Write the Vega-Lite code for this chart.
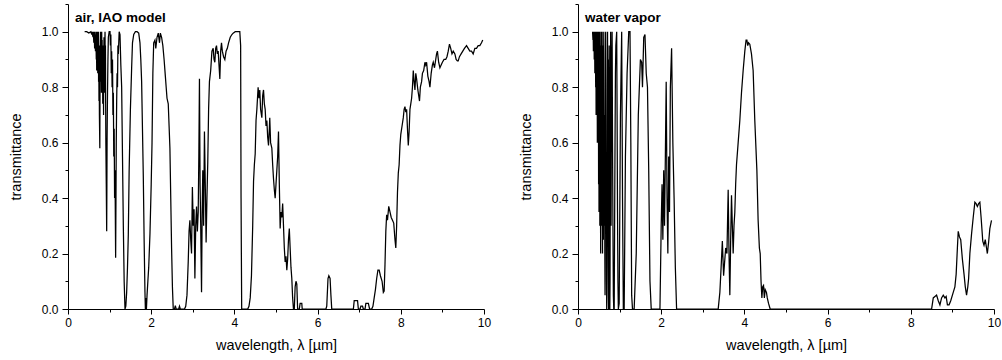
{
  "$schema": "https://vega.github.io/schema/vega-lite/v6.json",
  "padding": {"left": 8, "top": 3, "right": 0, "bottom": 8},
  "autosize": {"type": "pad"},
  "background": "white",
  "bounds": "flush",
  "spacing": 94,
  "config": {
    "view": {"stroke": null},
    "font": "Liberation Sans",
    "axis": {"domainColor": "black", "tickColor": "black", "labelColor": "black", "titleColor": "black", "grid": false, "labelFont": "Liberation Sans", "titleFont": "Liberation Sans", "labelFontSize": 12, "titleFontSize": 14.5, "titleFontWeight": "normal"}
  },
  "datasets": {
    "air": [
      {"x":0.40,"y":1.0},{"x":0.45,"y":1.0},{"x":0.50,"y":0.995},{"x":0.55,"y":1.0},{"x":0.57,"y":0.99},{"x":0.58,"y":1.0},{"x":0.60,"y":0.98},{"x":0.61,"y":1.0},{"x":0.62,"y":0.96},{"x":0.63,"y":1.0},{"x":0.64,"y":0.94},{"x":0.65,"y":1.0},{"x":0.66,"y":0.93},{"x":0.67,"y":0.99},{"x":0.68,"y":0.90},{"x":0.685,"y":1.0},{"x":0.69,"y":0.86},{"x":0.70,"y":0.97},{"x":0.705,"y":0.90},{"x":0.71,"y":1.0},{"x":0.715,"y":0.85},{"x":0.72,"y":0.95},{"x":0.725,"y":0.88},{"x":0.73,"y":1.0},{"x":0.735,"y":0.82},{"x":0.74,"y":0.92},{"x":0.745,"y":0.75},{"x":0.75,"y":0.95},{"x":0.755,"y":0.70},{"x":0.765,"y":0.58},{"x":0.77,"y":0.80},{"x":0.775,"y":0.95},{"x":0.78,"y":1.0},{"x":0.785,"y":0.88},{"x":0.79,"y":0.97},{"x":0.795,"y":0.82},{"x":0.80,"y":0.92},{"x":0.805,"y":0.78},{"x":0.81,"y":1.0},{"x":0.815,"y":0.90},{"x":0.82,"y":0.97},{"x":0.825,"y":0.80},{"x":0.83,"y":0.93},{"x":0.835,"y":0.74},{"x":0.84,"y":0.88},{"x":0.845,"y":0.95},{"x":0.85,"y":0.80},{"x":0.855,"y":0.70},{"x":0.86,"y":0.90},{"x":0.865,"y":0.98},{"x":0.87,"y":0.85},{"x":0.875,"y":0.92},{"x":0.88,"y":0.78},{"x":0.885,"y":0.95},{"x":0.89,"y":1.0},{"x":0.895,"y":0.88},{"x":0.90,"y":0.95},{"x":0.905,"y":0.75},{"x":0.91,"y":0.60},{"x":0.92,"y":0.45},{"x":0.93,"y":0.28},{"x":0.935,"y":0.45},{"x":0.94,"y":0.62},{"x":0.95,"y":0.78},{"x":0.96,"y":0.90},{"x":0.97,"y":0.98},{"x":0.99,"y":1.0},{"x":1.01,"y":1.0},{"x":1.02,"y":0.95},{"x":1.03,"y":0.99},{"x":1.04,"y":0.85},{"x":1.05,"y":0.93},{"x":1.06,"y":0.80},{"x":1.07,"y":0.90},{"x":1.08,"y":0.70},{"x":1.09,"y":0.78},{"x":1.10,"y":0.55},{"x":1.11,"y":0.65},{"x":1.12,"y":0.40},{"x":1.13,"y":0.50},{"x":1.145,"y":0.185},{"x":1.155,"y":0.45},{"x":1.16,"y":0.60},{"x":1.17,"y":0.75},{"x":1.18,"y":0.85},{"x":1.19,"y":0.80},{"x":1.20,"y":0.95},{"x":1.21,"y":0.92},{"x":1.23,"y":1.0},{"x":1.25,"y":0.99},{"x":1.27,"y":0.88},{"x":1.29,"y":0.80},{"x":1.31,"y":0.55},{"x":1.33,"y":0.30},{"x":1.35,"y":0.10},{"x":1.37,"y":0.0},{"x":1.39,"y":0.01},{"x":1.41,"y":0.06},{"x":1.43,"y":0.15},{"x":1.45,"y":0.27},{"x":1.47,"y":0.50},{"x":1.50,"y":0.72},{"x":1.53,"y":0.87},{"x":1.55,"y":0.96},{"x":1.58,"y":0.99},{"x":1.62,"y":1.0},{"x":1.66,"y":1.0},{"x":1.70,"y":0.995},{"x":1.73,"y":0.96},{"x":1.75,"y":0.90},{"x":1.77,"y":0.82},{"x":1.79,"y":0.65},{"x":1.81,"y":0.48},{"x":1.83,"y":0.25},{"x":1.85,"y":0.06},{"x":1.86,"y":0.0},{"x":1.875,"y":0.04},{"x":1.885,"y":0.0},{"x":1.90,"y":0.05},{"x":1.92,"y":0.10},{"x":1.94,"y":0.15},{"x":1.97,"y":0.27},{"x":2.00,"y":0.45},{"x":2.02,"y":0.60},{"x":2.04,"y":0.85},{"x":2.06,"y":0.96},{"x":2.09,"y":0.97},{"x":2.11,"y":0.94},{"x":2.14,"y":0.98},{"x":2.17,"y":0.995},{"x":2.20,"y":0.96},{"x":2.22,"y":0.995},{"x":2.25,"y":0.98},{"x":2.28,"y":0.95},{"x":2.31,"y":0.90},{"x":2.34,"y":0.84},{"x":2.36,"y":0.80},{"x":2.38,"y":0.76},{"x":2.41,"y":0.74},{"x":2.43,"y":0.66},{"x":2.45,"y":0.58},{"x":2.47,"y":0.40},{"x":2.49,"y":0.22},{"x":2.51,"y":0.08},{"x":2.53,"y":0.0},{"x":2.56,"y":0.0},{"x":2.58,"y":0.012},{"x":2.60,"y":0.0},{"x":2.66,"y":0.0},{"x":2.68,"y":0.01},{"x":2.70,"y":0.0},{"x":2.80,"y":0.0},{"x":2.83,"y":0.01},{"x":2.86,"y":0.05},{"x":2.89,"y":0.17},{"x":2.91,"y":0.28},{"x":2.93,"y":0.32},{"x":2.95,"y":0.25},{"x":2.97,"y":0.20},{"x":2.99,"y":0.44},{"x":3.01,"y":0.30},{"x":3.03,"y":0.36},{"x":3.05,"y":0.11},{"x":3.07,"y":0.30},{"x":3.09,"y":0.37},{"x":3.11,"y":0.28},{"x":3.13,"y":0.35},{"x":3.145,"y":0.55},{"x":3.16,"y":0.83},{"x":3.175,"y":0.45},{"x":3.19,"y":0.30},{"x":3.21,"y":0.06},{"x":3.225,"y":0.35},{"x":3.24,"y":0.50},{"x":3.26,"y":0.30},{"x":3.28,"y":0.64},{"x":3.30,"y":0.45},{"x":3.32,"y":0.24},{"x":3.34,"y":0.40},{"x":3.36,"y":0.53},{"x":3.38,"y":0.72},{"x":3.40,"y":0.82},{"x":3.43,"y":0.86},{"x":3.46,"y":0.93},{"x":3.49,"y":0.94},{"x":3.51,"y":0.90},{"x":3.53,"y":0.89},{"x":3.55,"y":0.94},{"x":3.57,"y":0.95},{"x":3.59,"y":0.92},{"x":3.61,"y":0.93},{"x":3.63,"y":0.88},{"x":3.65,"y":0.83},{"x":3.67,"y":0.93},{"x":3.69,"y":0.96},{"x":3.71,"y":0.93},{"x":3.74,"y":0.91},{"x":3.77,"y":0.90},{"x":3.80,"y":0.93},{"x":3.83,"y":0.94},{"x":3.86,"y":0.96},{"x":3.90,"y":0.98},{"x":3.94,"y":0.99},{"x":3.97,"y":0.995},{"x":4.02,"y":1.0},{"x":4.08,"y":1.0},{"x":4.13,"y":1.0},{"x":4.15,"y":0.95},{"x":4.16,"y":0.40},{"x":4.175,"y":0.0},{"x":4.25,"y":0.0},{"x":4.32,"y":0.0},{"x":4.35,"y":0.01},{"x":4.38,"y":0.04},{"x":4.41,"y":0.12},{"x":4.44,"y":0.30},{"x":4.46,"y":0.46},{"x":4.48,"y":0.52},{"x":4.50,"y":0.56},{"x":4.52,"y":0.68},{"x":4.54,"y":0.72},{"x":4.57,"y":0.80},{"x":4.59,"y":0.76},{"x":4.61,"y":0.79},{"x":4.63,"y":0.72},{"x":4.66,"y":0.69},{"x":4.68,"y":0.77},{"x":4.70,"y":0.79},{"x":4.72,"y":0.74},{"x":4.74,"y":0.72},{"x":4.76,"y":0.66},{"x":4.78,"y":0.68},{"x":4.80,"y":0.62},{"x":4.82,"y":0.59},{"x":4.84,"y":0.65},{"x":4.85,"y":0.69},{"x":4.87,"y":0.60},{"x":4.90,"y":0.58},{"x":4.92,"y":0.52},{"x":4.94,"y":0.47},{"x":4.96,"y":0.43},{"x":4.98,"y":0.40},{"x":5.00,"y":0.45},{"x":5.02,"y":0.50},{"x":5.04,"y":0.55},{"x":5.06,"y":0.64},{"x":5.08,"y":0.45},{"x":5.10,"y":0.29},{"x":5.12,"y":0.35},{"x":5.14,"y":0.33},{"x":5.16,"y":0.38},{"x":5.18,"y":0.30},{"x":5.20,"y":0.22},{"x":5.22,"y":0.17},{"x":5.24,"y":0.19},{"x":5.26,"y":0.14},{"x":5.28,"y":0.18},{"x":5.30,"y":0.25},{"x":5.32,"y":0.29},{"x":5.34,"y":0.22},{"x":5.36,"y":0.15},{"x":5.38,"y":0.11},{"x":5.40,"y":0.04},{"x":5.42,"y":0.0},{"x":5.44,"y":0.0},{"x":5.46,"y":0.08},{"x":5.48,"y":0.10},{"x":5.50,"y":0.09},{"x":5.52,"y":0.0},{"x":5.56,"y":0.0},{"x":5.58,"y":0.02},{"x":5.62,"y":0.02},{"x":5.63,"y":0.0},{"x":6.20,"y":0.0},{"x":6.22,"y":0.01},{"x":6.25,"y":0.11},{"x":6.27,"y":0.12},{"x":6.30,"y":0.11},{"x":6.32,"y":0.05},{"x":6.34,"y":0.0},{"x":6.86,"y":0.0},{"x":6.88,"y":0.03},{"x":6.96,"y":0.03},{"x":6.98,"y":0.0},{"x":7.02,"y":0.0},{"x":7.04,"y":0.01},{"x":7.08,"y":0.01},{"x":7.10,"y":0.0},{"x":7.14,"y":0.0},{"x":7.16,"y":0.02},{"x":7.22,"y":0.02},{"x":7.25,"y":0.0},{"x":7.30,"y":0.0},{"x":7.33,"y":0.01},{"x":7.36,"y":0.04},{"x":7.39,"y":0.07},{"x":7.42,"y":0.11},{"x":7.45,"y":0.14},{"x":7.48,"y":0.14},{"x":7.51,"y":0.12},{"x":7.55,"y":0.10},{"x":7.58,"y":0.06},{"x":7.60,"y":0.065},{"x":7.62,"y":0.16},{"x":7.64,"y":0.28},{"x":7.66,"y":0.34},{"x":7.68,"y":0.32},{"x":7.71,"y":0.37},{"x":7.74,"y":0.35},{"x":7.77,"y":0.33},{"x":7.80,"y":0.32},{"x":7.83,"y":0.31},{"x":7.86,"y":0.25},{"x":7.88,"y":0.22},{"x":7.90,"y":0.30},{"x":7.92,"y":0.42},{"x":7.94,"y":0.49},{"x":7.96,"y":0.52},{"x":7.98,"y":0.59},{"x":8.00,"y":0.63},{"x":8.03,"y":0.66},{"x":8.06,"y":0.69},{"x":8.08,"y":0.72},{"x":8.10,"y":0.73},{"x":8.12,"y":0.71},{"x":8.14,"y":0.72},{"x":8.16,"y":0.65},{"x":8.18,"y":0.59},{"x":8.20,"y":0.64},{"x":8.22,"y":0.72},{"x":8.24,"y":0.74},{"x":8.26,"y":0.76},{"x":8.28,"y":0.80},{"x":8.30,"y":0.86},{"x":8.32,"y":0.82},{"x":8.34,"y":0.79},{"x":8.36,"y":0.85},{"x":8.38,"y":0.83},{"x":8.41,"y":0.79},{"x":8.43,"y":0.77},{"x":8.45,"y":0.75},{"x":8.47,"y":0.80},{"x":8.50,"y":0.82},{"x":8.52,"y":0.85},{"x":8.55,"y":0.86},{"x":8.58,"y":0.89},{"x":8.60,"y":0.88},{"x":8.62,"y":0.89},{"x":8.65,"y":0.84},{"x":8.68,"y":0.82},{"x":8.70,"y":0.80},{"x":8.73,"y":0.85},{"x":8.76,"y":0.88},{"x":8.78,"y":0.89},{"x":8.81,"y":0.87},{"x":8.84,"y":0.90},{"x":8.86,"y":0.92},{"x":8.88,"y":0.93},{"x":8.91,"y":0.89},{"x":8.94,"y":0.87},{"x":8.97,"y":0.88},{"x":9.00,"y":0.89},{"x":9.04,"y":0.90},{"x":9.08,"y":0.90},{"x":9.11,"y":0.91},{"x":9.14,"y":0.93},{"x":9.17,"y":0.955},{"x":9.20,"y":0.94},{"x":9.23,"y":0.92},{"x":9.26,"y":0.93},{"x":9.30,"y":0.92},{"x":9.33,"y":0.90},{"x":9.36,"y":0.895},{"x":9.38,"y":0.895},{"x":9.41,"y":0.91},{"x":9.45,"y":0.92},{"x":9.49,"y":0.93},{"x":9.53,"y":0.94},{"x":9.58,"y":0.95},{"x":9.62,"y":0.94},{"x":9.66,"y":0.93},{"x":9.70,"y":0.93},{"x":9.74,"y":0.92},{"x":9.78,"y":0.94},{"x":9.82,"y":0.94},{"x":9.86,"y":0.95},{"x":9.90,"y":0.95},{"x":9.94,"y":0.96},{"x":9.97,"y":0.97}
    ],
    "water": [
      {"x":0.35,"y":1.0},{"x":0.36,"y":0.97},{"x":0.365,"y":1.0},{"x":0.37,"y":0.93},{"x":0.375,"y":1.0},{"x":0.38,"y":0.95},{"x":0.385,"y":0.99},{"x":0.39,"y":0.90},{"x":0.395,"y":1.0},{"x":0.40,"y":0.96},{"x":0.405,"y":0.85},{"x":0.41,"y":1.0},{"x":0.415,"y":0.88},{"x":0.42,"y":0.99},{"x":0.425,"y":0.80},{"x":0.43,"y":1.0},{"x":0.435,"y":0.70},{"x":0.44,"y":0.98},{"x":0.445,"y":0.85},{"x":0.45,"y":1.0},{"x":0.455,"y":0.75},{"x":0.46,"y":0.95},{"x":0.465,"y":0.60},{"x":0.47,"y":1.0},{"x":0.475,"y":0.82},{"x":0.48,"y":0.98},{"x":0.485,"y":0.64},{"x":0.49,"y":0.90},{"x":0.495,"y":0.45},{"x":0.50,"y":1.0},{"x":0.505,"y":0.35},{"x":0.51,"y":0.85},{"x":0.515,"y":0.55},{"x":0.52,"y":1.0},{"x":0.525,"y":0.30},{"x":0.53,"y":0.75},{"x":0.535,"y":0.95},{"x":0.54,"y":0.40},{"x":0.545,"y":0.20},{"x":0.55,"y":0.80},{"x":0.555,"y":1.0},{"x":0.56,"y":0.50},{"x":0.565,"y":0.30},{"x":0.57,"y":0.90},{"x":0.575,"y":0.60},{"x":0.58,"y":1.0},{"x":0.585,"y":0.35},{"x":0.59,"y":0.20},{"x":0.595,"y":0.70},{"x":0.60,"y":0.95},{"x":0.605,"y":0.45},{"x":0.61,"y":0.25},{"x":0.615,"y":0.85},{"x":0.62,"y":1.0},{"x":0.625,"y":0.40},{"x":0.63,"y":0.30},{"x":0.635,"y":0.70},{"x":0.64,"y":0.55},{"x":0.645,"y":0.20},{"x":0.65,"y":0.05},{"x":0.655,"y":0.60},{"x":0.66,"y":0.90},{"x":0.665,"y":1.0},{"x":0.67,"y":0.70},{"x":0.675,"y":0.30},{"x":0.68,"y":0.45},{"x":0.685,"y":0.10},{"x":0.69,"y":0.0},{"x":0.695,"y":0.05},{"x":0.70,"y":0.35},{"x":0.705,"y":0.80},{"x":0.71,"y":1.0},{"x":0.715,"y":0.60},{"x":0.72,"y":0.90},{"x":0.725,"y":0.40},{"x":0.73,"y":0.15},{"x":0.735,"y":0.0},{"x":0.74,"y":0.30},{"x":0.745,"y":0.70},{"x":0.75,"y":0.95},{"x":0.755,"y":0.55},{"x":0.76,"y":0.20},{"x":0.765,"y":0.0},{"x":0.77,"y":0.10},{"x":0.775,"y":0.45},{"x":0.78,"y":0.80},{"x":0.785,"y":1.0},{"x":0.79,"y":0.65},{"x":0.795,"y":0.30},{"x":0.80,"y":0.55},{"x":0.81,"y":0.85},{"x":0.82,"y":1.0},{"x":0.83,"y":0.60},{"x":0.84,"y":0.30},{"x":0.85,"y":0.05},{"x":0.86,"y":0.0},{"x":0.87,"y":0.0},{"x":0.88,"y":0.30},{"x":0.89,"y":0.60},{"x":0.90,"y":0.85},{"x":0.91,"y":0.95},{"x":0.93,"y":1.0},{"x":0.94,"y":0.70},{"x":0.95,"y":0.35},{"x":0.96,"y":0.10},{"x":0.97,"y":0.0},{"x":0.99,"y":0.02},{"x":1.02,"y":0.70},{"x":1.05,"y":1.0},{"x":1.07,"y":0.40},{"x":1.09,"y":0.0},{"x":1.11,"y":0.0},{"x":1.14,"y":0.55},{"x":1.18,"y":0.85},{"x":1.22,"y":1.0},{"x":1.25,"y":1.0},{"x":1.27,"y":0.60},{"x":1.29,"y":0.05},{"x":1.31,"y":0.0},{"x":1.35,"y":0.0},{"x":1.40,"y":0.20},{"x":1.45,"y":0.70},{"x":1.50,"y":0.90},{"x":1.53,"y":0.89},{"x":1.55,"y":0.80},{"x":1.58,"y":0.98},{"x":1.61,"y":0.99},{"x":1.64,"y":0.85},{"x":1.67,"y":0.80},{"x":1.70,"y":0.50},{"x":1.73,"y":0.10},{"x":1.76,"y":0.0},{"x":1.97,"y":0.0},{"x":2.00,"y":0.30},{"x":2.02,"y":0.45},{"x":2.04,"y":0.25},{"x":2.06,"y":0.50},{"x":2.08,"y":0.30},{"x":2.10,"y":0.55},{"x":2.12,"y":0.82},{"x":2.14,"y":0.40},{"x":2.16,"y":0.20},{"x":2.18,"y":0.55},{"x":2.20,"y":0.35},{"x":2.22,"y":0.80},{"x":2.25,"y":0.94},{"x":2.28,"y":0.60},{"x":2.31,"y":0.40},{"x":2.34,"y":0.15},{"x":2.37,"y":0.0},{"x":3.37,"y":0.0},{"x":3.41,"y":0.06},{"x":3.44,"y":0.15},{"x":3.47,"y":0.245},{"x":3.50,"y":0.12},{"x":3.52,"y":0.16},{"x":3.55,"y":0.22},{"x":3.58,"y":0.20},{"x":3.61,"y":0.43},{"x":3.63,"y":0.20},{"x":3.65,"y":0.05},{"x":3.67,"y":0.25},{"x":3.69,"y":0.41},{"x":3.71,"y":0.30},{"x":3.73,"y":0.20},{"x":3.75,"y":0.30},{"x":3.77,"y":0.35},{"x":3.79,"y":0.45},{"x":3.81,"y":0.52},{"x":3.85,"y":0.60},{"x":3.89,"y":0.68},{"x":3.93,"y":0.78},{"x":3.97,"y":0.86},{"x":4.01,"y":0.93},{"x":4.04,"y":0.97},{"x":4.06,"y":0.97},{"x":4.08,"y":0.95},{"x":4.10,"y":0.96},{"x":4.13,"y":0.955},{"x":4.17,"y":0.92},{"x":4.21,"y":0.86},{"x":4.25,"y":0.68},{"x":4.30,"y":0.50},{"x":4.33,"y":0.32},{"x":4.36,"y":0.22},{"x":4.38,"y":0.20},{"x":4.40,"y":0.10},{"x":4.42,"y":0.04},{"x":4.44,"y":0.08},{"x":4.46,"y":0.085},{"x":4.48,"y":0.04},{"x":4.50,"y":0.07},{"x":4.53,"y":0.06},{"x":4.55,"y":0.04},{"x":4.58,"y":0.02},{"x":4.62,"y":0.0},{"x":8.50,"y":0.0},{"x":8.54,"y":0.04},{"x":8.58,"y":0.045},{"x":8.62,"y":0.05},{"x":8.66,"y":0.03},{"x":8.70,"y":0.015},{"x":8.74,"y":0.04},{"x":8.78,"y":0.05},{"x":8.82,"y":0.04},{"x":8.85,"y":0.045},{"x":8.88,"y":0.015},{"x":8.92,"y":0.015},{"x":8.96,"y":0.03},{"x":9.02,"y":0.06},{"x":9.06,"y":0.08},{"x":9.09,"y":0.125},{"x":9.12,"y":0.22},{"x":9.14,"y":0.28},{"x":9.17,"y":0.26},{"x":9.20,"y":0.25},{"x":9.24,"y":0.18},{"x":9.28,"y":0.125},{"x":9.31,"y":0.08},{"x":9.34,"y":0.05},{"x":9.37,"y":0.08},{"x":9.39,"y":0.11},{"x":9.42,"y":0.20},{"x":9.46,"y":0.27},{"x":9.50,"y":0.33},{"x":9.54,"y":0.385},{"x":9.57,"y":0.38},{"x":9.60,"y":0.37},{"x":9.63,"y":0.38},{"x":9.66,"y":0.385},{"x":9.69,"y":0.33},{"x":9.73,"y":0.245},{"x":9.76,"y":0.23},{"x":9.79,"y":0.25},{"x":9.82,"y":0.22},{"x":9.84,"y":0.20},{"x":9.87,"y":0.24},{"x":9.90,"y":0.29},{"x":9.94,"y":0.32}
    ]
  },
  "hconcat": [
    {
      "width": 416,
      "height": 305,
      "data": {"name": "air"},
      "title": {"text": "air, IAO model", "anchor": "start", "frame": "group", "offset": -21, "dx": 7, "fontSize": 13.5, "fontWeight": "bold", "font": "Liberation Sans", "color": "black"},
      "mark": {"type": "line", "color": "black", "strokeWidth": 1.25},
      "encoding": {
        "x": {"field": "x", "type": "quantitative", "scale": {"domain": [0, 10], "nice": false, "zero": false},
          "axis": {"title": "wavelength, λ  [µm]", "values": [0,1,2,3,4,5,6,7,8,9,10], "format": "d", "labelExpr": "datum.value % 2 == 0 ? datum.label : ''", "labelFlush": false, "tickSize": {"condition": {"test": "datum.value % 2 == 1", "value": 3}, "value": 5}, "labelPadding": 3, "titlePadding": 10}},
        "y": {"field": "y", "type": "quantitative", "scale": {"domain": [0, 1.1], "nice": false},
          "axis": {"title": "transmittance", "values": [0,0.1,0.2,0.3,0.4,0.5,0.6,0.7,0.8,0.9,1.0,1.1], "format": ".1f", "labelExpr": "round(datum.value*10) % 2 == 0 ? datum.label : ''", "tickSize": {"condition": {"test": "round(datum.value*10) % 2 == 1", "value": 3}, "value": 6}, "labelPadding": 4, "titlePadding": 18}}
      }
    },
    {
      "width": 416,
      "height": 305,
      "data": {"name": "water"},
      "title": {"text": "water vapor", "anchor": "start", "frame": "group", "offset": -21, "dx": 7, "fontSize": 13.5, "fontWeight": "bold", "font": "Liberation Sans", "color": "black"},
      "mark": {"type": "line", "color": "black", "strokeWidth": 1.25},
      "encoding": {
        "x": {"field": "x", "type": "quantitative", "scale": {"domain": [0, 10], "nice": false, "zero": false},
          "axis": {"title": "wavelength, λ  [µm]", "values": [0,1,2,3,4,5,6,7,8,9,10], "format": "d", "labelExpr": "datum.value % 2 == 0 ? datum.label : ''", "labelFlush": false, "tickSize": {"condition": {"test": "datum.value % 2 == 1", "value": 3}, "value": 5}, "labelPadding": 3, "titlePadding": 10}},
        "y": {"field": "y", "type": "quantitative", "scale": {"domain": [0, 1.1], "nice": false},
          "axis": {"title": "transmittance", "values": [0,0.1,0.2,0.3,0.4,0.5,0.6,0.7,0.8,0.9,1.0,1.1], "format": ".1f", "labelExpr": "round(datum.value*10) % 2 == 0 ? datum.label : ''", "tickSize": {"condition": {"test": "round(datum.value*10) % 2 == 1", "value": 3}, "value": 6}, "labelPadding": 4, "titlePadding": 18}}
      }
    }
  ]
}
